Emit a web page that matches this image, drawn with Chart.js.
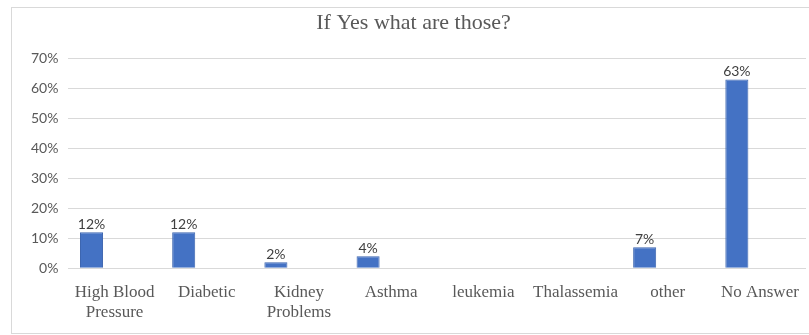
<!DOCTYPE html>
<html>
<head>
<meta charset="utf-8">
<script src="https://cdn.jsdelivr.net/npm/chart.js@4.4.0/dist/chart.umd.min.js"></script>
<style>
    body { margin: 0; background: #fff; }
    .box { position: absolute; left: 11px; top: 7px; width: 798px; height: 327px; border: 1px solid #d9d9d9; border-right: none; box-sizing: border-box; }
</style>
</head>
<body>
<div class="box"><canvas class="canvas"></canvas></div>
<script>
// categories and values (percent)
const categories = [["High Blood", "Pressure"], "Diabetic", ["Kidney", "Problems"], "Asthma", "leukemia", "Thalassemia", "other", "No Answer"];
const answers = [12, 12, 2, 4, null, null, 7, 63];
// empty second series (keeps the Excel offset of the bars)
const blank = [null, null, null, null, null, null, null, null];
const yTicks = [0, 10, 20, 30, 40, 50, 60, 70];

// draws the "12%" style labels on top of each bar
const barLabels = {
    id: 'barLabels',
    afterDatasetsDraw(chart) {
        let ctx = chart.ctx;
        let meta = chart.getDatasetMeta(0);
        ctx.save();
        ctx.font = '14px Lato';
        ctx.fillStyle = '#404040';
        ctx.textAlign = 'center';
        ctx.textBaseline = 'bottom';
        meta.data.forEach((bar, i) => {
            if (answers[i] == null) return;
            ctx.fillText(answers[i] + '%', bar.x, bar.y - 1);
        });
        ctx.restore();
    }
};

let canvas = document.querySelector('.canvas');
let chart = new Chart(canvas, {
    type: 'bar',
    data: {
        labels: categories,
        datasets: [
            { label: 'Yes', data: answers, backgroundColor: '#4472c4', borderColor: '#3d66b0', borderWidth: 1 },
            { label: '', data: blank, backgroundColor: '#ed7d31' }
        ]
    },
    options: {
        responsive: true,
        maintainAspectRatio: false,
        animation: false,
        layout: { padding: { left: 9, right: 3, top: 0, bottom: 4 } },
        datasets: { bar: { categoryPercentage: 1.0, barPercentage: 0.5 } },
        plugins: {
            legend: { display: false },
            tooltip: { enabled: false },
            title: {
                display: true,
                text: 'If Yes what are those?',
                color: '#595959',
                font: { family: 'Liberation Serif', size: 22, weight: 'normal' },
                padding: { top: 2, bottom: 22 }
            }
        },
        scales: {
            x: {
                grid: { display: false },
                border: { display: false },
                ticks: {
                    color: '#595959',
                    font: { family: 'Liberation Serif', size: 17 },
                    maxRotation: 0,
                    autoSkip: false,
                    padding: 6
                }
            },
            y: {
                min: 0,
                max: 70,
                afterBuildTicks(axis) { axis.ticks = yTicks.map(v => ({ value: v })); },
                grid: { color: '#d9d9d9', drawTicks: false },
                border: { display: false },
                ticks: {
                    color: '#595959',
                    font: { family: 'Lato', size: 14 },
                    padding: 10,
                    callback: v => v + '%'
                }
            }
        }
    },
    plugins: [barLabels]
});
</script>
</body>
</html>
